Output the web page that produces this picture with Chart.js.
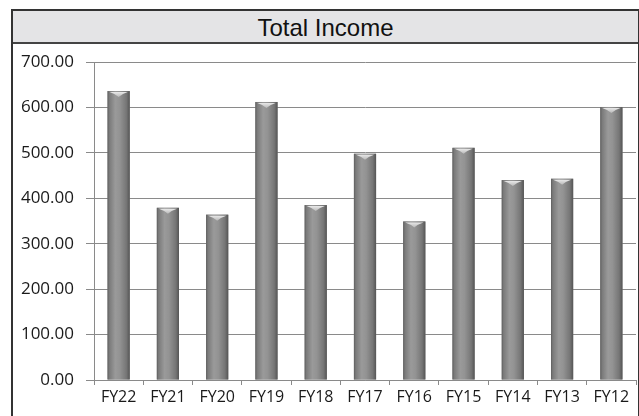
<!DOCTYPE html>
<html>
<head>
<meta charset="utf-8">
<script src="https://cdn.jsdelivr.net/npm/chart.js@4.4.1/dist/chart.umd.min.js"></script>
<style>
  body { margin: 0; background: #fff; width: 639px; height: 416px; overflow: hidden; }
  #box { position: absolute; left: 11px; top: 9px; width: 625px; height: 420px; border: 2px solid #333; }
  #title { height: 31px; background: #e4e4e6; border-bottom: 2px solid #444;
           font: 24px "Liberation Sans", Arial, sans-serif; color: #111; text-align: center; line-height: 33px; }
  #wrap { position: relative; width: 625px; height: 372px; }
</style>
</head>
<body>
<div id="box">
  <div id="title">Total Income</div>
  <div id="wrap"><canvas id="incomeChart"></canvas></div>
</div>
<script>
// Daten
const categories = ['FY22', 'FY21', 'FY20', 'FY19', 'FY18', 'FY17', 'FY16', 'FY15', 'FY14', 'FY13', 'FY12'];
const incomeValues = [636, 379, 364, 612, 385, 498, 349, 511, 440, 443, 601];
const yTicks = [0, 100, 200, 300, 400, 500, 600, 700];

// Zylinder-Optik fuer die Balken
const cylinderBars = {
    id: 'cylinderBars',
    afterDatasetsDraw(chart) {
        const ctx = chart.ctx;
        chart.getDatasetMeta(0).data.forEach(bar => {
            const left = bar.x - bar.width / 2;
            const right = bar.x + bar.width / 2;
            const top = bar.y;
            const bottom = bar.base;
            let g = ctx.createLinearGradient(left, 0, right, 0);
            g.addColorStop(0, '#5e5e5e');
            g.addColorStop(0.08, '#7a7a7a');
            g.addColorStop(0.35, '#9a9a9a');
            g.addColorStop(0.55, '#939393');
            g.addColorStop(0.85, '#767676');
            g.addColorStop(1, '#555555');
            ctx.save();
            ctx.fillStyle = g;
            ctx.fillRect(left, top, right - left, bottom - top);
            // heller Deckel oben
            let cap = ctx.createLinearGradient(0, top, 0, top + 6);
            cap.addColorStop(0, '#f2f2f2');
            cap.addColorStop(1, '#b8b8b8');
            ctx.fillStyle = cap;
            ctx.beginPath();
            ctx.moveTo(left + 2, top + 1);
            ctx.lineTo(right - 2, top + 1);
            ctx.quadraticCurveTo(bar.x + 3, top + 3, bar.x, top + 6);
            ctx.quadraticCurveTo(bar.x - 3, top + 3, left + 2, top + 1);
            ctx.fill();
            ctx.restore();
        });
    }
};

new Chart(document.getElementById('incomeChart'), {
    type: 'bar',
    data: {
        labels: categories,
        datasets: [{
            data: incomeValues,
            backgroundColor: '#888',
            barPercentage: 0.45,
            categoryPercentage: 1
        }]
    },
    options: {
        responsive: true,
        maintainAspectRatio: false,
        animation: false,
        layout: { padding: { top: 18, right: 2, left: 0, bottom: 0 } },
        plugins: { legend: { display: false }, title: { display: false }, tooltip: { enabled: false } },
        scales: {
            y: {
                min: 0,
                max: 700,
                afterBuildTicks: s => { s.ticks = yTicks.map(v => ({ value: v })); },
                afterFit: s => { s.width = 81; s.paddingTop = 0; s.paddingBottom = 0; },
                grid: { color: '#8a8a8a', lineWidth: 1, tickLength: 8 },
                border: { color: '#8a8a8a' },
                ticks: {
                    padding: 12,
                    color: '#1a1a1a',
                    font: { family: 'Open Sans', size: 17 },
                    callback: v => v.toFixed(2)
                }
            },
            x: {
                afterFit: s => { s.height = 36; s.paddingLeft = 0; s.paddingRight = 0; },
                grid: { drawOnChartArea: false, color: '#8a8a8a', tickLength: 5 },
                border: { color: '#8a8a8a' },
                ticks: {
                    padding: 3,
                    autoSkip: false,
                    maxRotation: 0,
                    color: '#1a1a1a',
                    font: { family: 'Open Sans', size: 16 }
                }
            }
        }
    },
    plugins: [cylinderBars]
});
</script>
</body>
</html>
